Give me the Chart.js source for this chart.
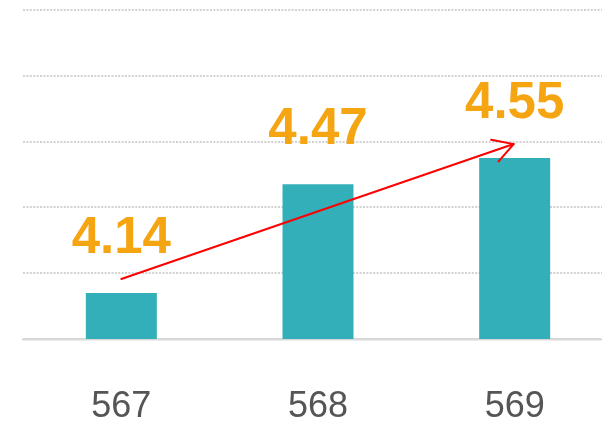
<!DOCTYPE html>
<html>
<head>
<meta charset="utf-8">
<script src="https://cdn.jsdelivr.net/npm/chart.js@4/dist/chart.umd.min.js"></script>
<style>
html,body{margin:0;padding:0;overflow:hidden;background:#fff;width:602px;height:421px;}
#wrap{width:613px;height:421px;}
</style>
</head>
<body>
<div id="wrap"><canvas id="c" width="613" height="421"></canvas></div>
<script>
const categories = ['567', '568', '569'];
const values = [4.14, 4.47, 4.55];
const yMin = 4.0;
const yMax = 5.0;
const yStep = 0.2;

const labelPlugin = {
  id: 'valueLabels',
  afterDatasetsDraw(chart) {
    const ctx = chart.ctx;
    const meta = chart.getDatasetMeta(0);
    ctx.save();
    // arrow from first bar to last bar
    const first = meta.data[0], last = meta.data[meta.data.length - 1];
    const x1 = first.x, y1 = first.y - 14;
    const x2 = last.x - 1, y2 = last.y - 14;
    ctx.strokeStyle = '#FF0000';
    ctx.lineWidth = 2;
    ctx.lineCap = 'round';
    ctx.beginPath();
    ctx.moveTo(x1, y1);
    ctx.lineTo(x2, y2);
    const ang = Math.atan2(y1 - y2, x1 - x2);
    const len = 23, spread = Math.PI / 6;
    ctx.moveTo(x2 + len * Math.cos(ang - spread), y2 + len * Math.sin(ang - spread));
    ctx.lineTo(x2, y2);
    ctx.lineTo(x2 + len * Math.cos(ang + spread), y2 + len * Math.sin(ang + spread));
    ctx.stroke();
    // value labels
    ctx.fillStyle = '#F5A512';
    ctx.font = 'bold 51px "Liberation Sans", Arial, sans-serif';
    ctx.textAlign = 'center';
    ctx.textBaseline = 'alphabetic';
    meta.data.forEach((bar, i) => {
      ctx.fillText(values[i].toFixed(2), bar.x, bar.y - 40);
    });
    ctx.restore();
  }
};

new Chart(document.getElementById('c'), {
  type: 'bar',
  data: {
    labels: categories,
    datasets: [{
      data: values,
      backgroundColor: '#32AFB9',
      borderWidth: 0,
      categoryPercentage: 1,
      barPercentage: 0.361
    }]
  },
  options: {
    responsive: false,
    animation: false,
    devicePixelRatio: 1,
    layout: { padding: { left: 23, right: 0, top: 10, bottom: 0 } },
    plugins: { legend: { display: false }, tooltip: { enabled: false } },
    scales: {
      x: {
        grid: { display: false, drawTicks: false },
        border: { display: true, color: '#D9D9D9', width: 2.5 },
        ticks: {
          color: '#555555',
          font: { family: '"Liberation Sans", Arial, sans-serif', size: 36 },
          padding: 46
        },
        afterFit(scale) { scale.height = 82; }
      },
      y: {
        min: yMin,
        max: yMax,
        ticks: { display: false, stepSize: yStep },
        border: { display: false, dash: [2, 1.4] },
        grid: { color: '#D2D2D2', lineWidth: 2, drawTicks: false },
        afterFit(scale) { scale.width = 0; }
      }
    }
  },
  plugins: [labelPlugin]
});
</script>
</body>
</html>
